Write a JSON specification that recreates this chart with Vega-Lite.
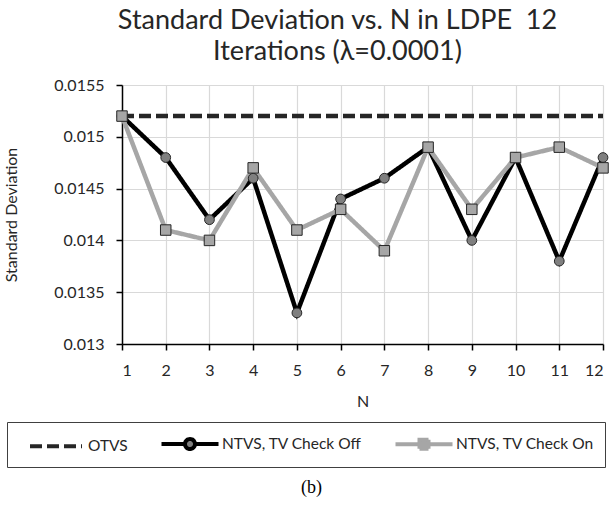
{
  "$schema": "https://vega.github.io/schema/vega-lite/v6.json",
  "width": 481,
  "height": 259,
  "autosize": {"type": "none"},
  "padding": {"left": 122, "top": 85, "right": 10, "bottom": 170},
  "background": "white",
  "title": {
    "text": ["Standard Deviation vs. N in LDPE\u00a0 12", "Iterations (λ=0.0001)"],
    "font": "Lato", "fontSize": 27, "fontWeight": "normal", "color": "#262626",
    "anchor": "middle", "frame": "group", "dx": -25, "offset": 11, "lineHeight": 31
  },
  "config": {
    "view": {"stroke": null},
    "axis": {"labelFont": "Lato", "titleFont": "Lato", "labelColor": "#262626", "titleColor": "#262626", "titleFontWeight": "normal", "labelFontSize": 16, "titleFontSize": 16}
  },
  "datasets": {
    "sd": [
      {"N": 1, "series": "OTVS", "sd": 0.0152},
      {"N": 2, "series": "OTVS", "sd": 0.0152},
      {"N": 3, "series": "OTVS", "sd": 0.0152},
      {"N": 4, "series": "OTVS", "sd": 0.0152},
      {"N": 5, "series": "OTVS", "sd": 0.0152},
      {"N": 6, "series": "OTVS", "sd": 0.0152},
      {"N": 7, "series": "OTVS", "sd": 0.0152},
      {"N": 8, "series": "OTVS", "sd": 0.0152},
      {"N": 9, "series": "OTVS", "sd": 0.0152},
      {"N": 10, "series": "OTVS", "sd": 0.0152},
      {"N": 11, "series": "OTVS", "sd": 0.0152},
      {"N": 12, "series": "OTVS", "sd": 0.0152},
      {"N": 1, "series": "NTVS, TV Check Off", "sd": 0.0152},
      {"N": 2, "series": "NTVS, TV Check Off", "sd": 0.0148},
      {"N": 3, "series": "NTVS, TV Check Off", "sd": 0.0142},
      {"N": 4, "series": "NTVS, TV Check Off", "sd": 0.0146},
      {"N": 5, "series": "NTVS, TV Check Off", "sd": 0.0133},
      {"N": 6, "series": "NTVS, TV Check Off", "sd": 0.0144},
      {"N": 7, "series": "NTVS, TV Check Off", "sd": 0.0146},
      {"N": 8, "series": "NTVS, TV Check Off", "sd": 0.0149},
      {"N": 9, "series": "NTVS, TV Check Off", "sd": 0.0140},
      {"N": 10, "series": "NTVS, TV Check Off", "sd": 0.0148},
      {"N": 11, "series": "NTVS, TV Check Off", "sd": 0.0138},
      {"N": 12, "series": "NTVS, TV Check Off", "sd": 0.0148},
      {"N": 1, "series": "NTVS, TV Check On", "sd": 0.0152},
      {"N": 2, "series": "NTVS, TV Check On", "sd": 0.0141},
      {"N": 3, "series": "NTVS, TV Check On", "sd": 0.0140},
      {"N": 4, "series": "NTVS, TV Check On", "sd": 0.0147},
      {"N": 5, "series": "NTVS, TV Check On", "sd": 0.0141},
      {"N": 6, "series": "NTVS, TV Check On", "sd": 0.0143},
      {"N": 7, "series": "NTVS, TV Check On", "sd": 0.0139},
      {"N": 8, "series": "NTVS, TV Check On", "sd": 0.0149},
      {"N": 9, "series": "NTVS, TV Check On", "sd": 0.0143},
      {"N": 10, "series": "NTVS, TV Check On", "sd": 0.0148},
      {"N": 11, "series": "NTVS, TV Check On", "sd": 0.0149},
      {"N": 12, "series": "NTVS, TV Check On", "sd": 0.0147}
    ]
  },
  "data": {"name": "sd"},
  "resolve": {"axis": {"x": "independent"}},
  "layer": [
    {
      "transform": [{"filter": "datum.series === 'OTVS'"}],
      "mark": {"type": "line", "strokeWidth": 4.5, "strokeCap": "butt"},
      "encoding": {
        "x": {"field": "N", "type": "quantitative", "scale": {"domain": [1, 12], "nice": false, "zero": false},
          "axis": {"orient": "bottom", "labels": false, "ticks": false, "domain": false, "grid": false, "title": "(b)", "titleFont": "Liberation Serif", "titleFontSize": 18, "titleColor": "#000000", "titleX": 189, "titleY": 134, "titleBaseline": "top"}},
        "y": {"field": "sd", "type": "quantitative", "scale": {"domain": [0.013, 0.0155], "nice": false, "zero": false},
          "axis": {"values": [0.013, 0.0135, 0.014, 0.0145, 0.015, 0.0155], "format": ".4~f", "grid": true, "gridColor": "#d9d9d9", "gridWidth": 1.2, "domainColor": "#000000", "domainWidth": 1.5, "tickColor": "#000000", "tickWidth": 1.5, "tickSize": 6, "labelPadding": 12, "title": "Standard Deviation", "titlePadding": 34}},
        "stroke": {"field": "series", "type": "nominal",
          "scale": {"domain": ["OTVS", "NTVS, TV Check Off", "NTVS, TV Check On"], "range": ["#262626", "#000000", "#a6a6a6"]},
          "legend": {
            "orient": "none", "legendX": -115, "legendY": 337, "direction": "horizontal", "title": null,
            "strokeColor": "#404040", "fillColor": "white", "padding": 10, "symbolSize": 400, "symbolStrokeWidth": 4,
            "symbolOffset": 27, "labelOffset": 20, "columnPadding": 23,
            "labelFont": "Lato", "labelFontSize": 15.5, "labelColor": "#262626",
            "encode": {
              "symbols": {"update": {
                "shape": {"signal": "datum.value === 'OTVS' ? 'M-2.6,0H2.6' : datum.value === 'NTVS, TV Check Off' ? 'M-2.85,0H-0.5M0.5,0H2.85M0.5,0A0.5,0.5,0,1,1,-0.5,0A0.5,0.5,0,1,1,0.5,0Z' : 'M-2.85,0H-0.45M0.45,0H2.85M-0.45,-0.45H0.45V0.45H-0.45Z'"},
                "fill": {"signal": "datum.value === 'NTVS, TV Check Off' ? '#7f7f7f' : datum.value === 'NTVS, TV Check On' ? '#a6a6a6' : 'transparent'"}
              }}
            }
          }},
        "strokeDash": {"field": "series", "type": "nominal",
          "scale": {"domain": ["OTVS", "NTVS, TV Check Off", "NTVS, TV Check On"], "range": [[12, 5], [1, 0], [1, 0]]}}
      }
    },
    {
      "transform": [{"filter": "datum.series !== 'OTVS'"}],
      "mark": {"type": "line", "strokeWidth": 4.5, "strokeJoin": "miter"},
      "encoding": {
        "x": {"field": "N", "type": "quantitative", "scale": {"domain": [1, 12], "nice": false, "zero": false},
          "axis": {"orient": "bottom", "values": [1, 2, 3, 4, 5, 6, 7, 8, 9, 10, 11, 12], "grid": true, "gridColor": "#d9d9d9", "gridWidth": 1.2, "domainColor": "#000000", "domainWidth": 1.5, "tickColor": "#000000", "tickWidth": 1.5, "tickSize": 6, "labelPadding": 12, "title": "N", "titlePadding": 15}},
        "y": {"field": "sd", "type": "quantitative"},
        "stroke": {"field": "series", "type": "nominal"},
        "strokeDash": {"field": "series", "type": "nominal"}
      }
    },
    {
      "transform": [{"filter": "datum.series === 'NTVS, TV Check Off'"}],
      "mark": {"type": "point", "shape": "circle", "filled": true, "fill": "#7f7f7f", "stroke": "#262626", "strokeWidth": 1, "size": 95, "opacity": 1},
      "encoding": {
        "x": {"field": "N", "type": "quantitative", "axis": null},
        "y": {"field": "sd", "type": "quantitative"}
      }
    },
    {
      "transform": [{"filter": "datum.series === 'NTVS, TV Check On'"}],
      "mark": {"type": "point", "shape": "square", "filled": true, "fill": "#a6a6a6", "stroke": "#262626", "strokeWidth": 1, "size": 110, "opacity": 1},
      "encoding": {
        "x": {"field": "N", "type": "quantitative", "axis": null},
        "y": {"field": "sd", "type": "quantitative"}
      }
    }
  ]
}
